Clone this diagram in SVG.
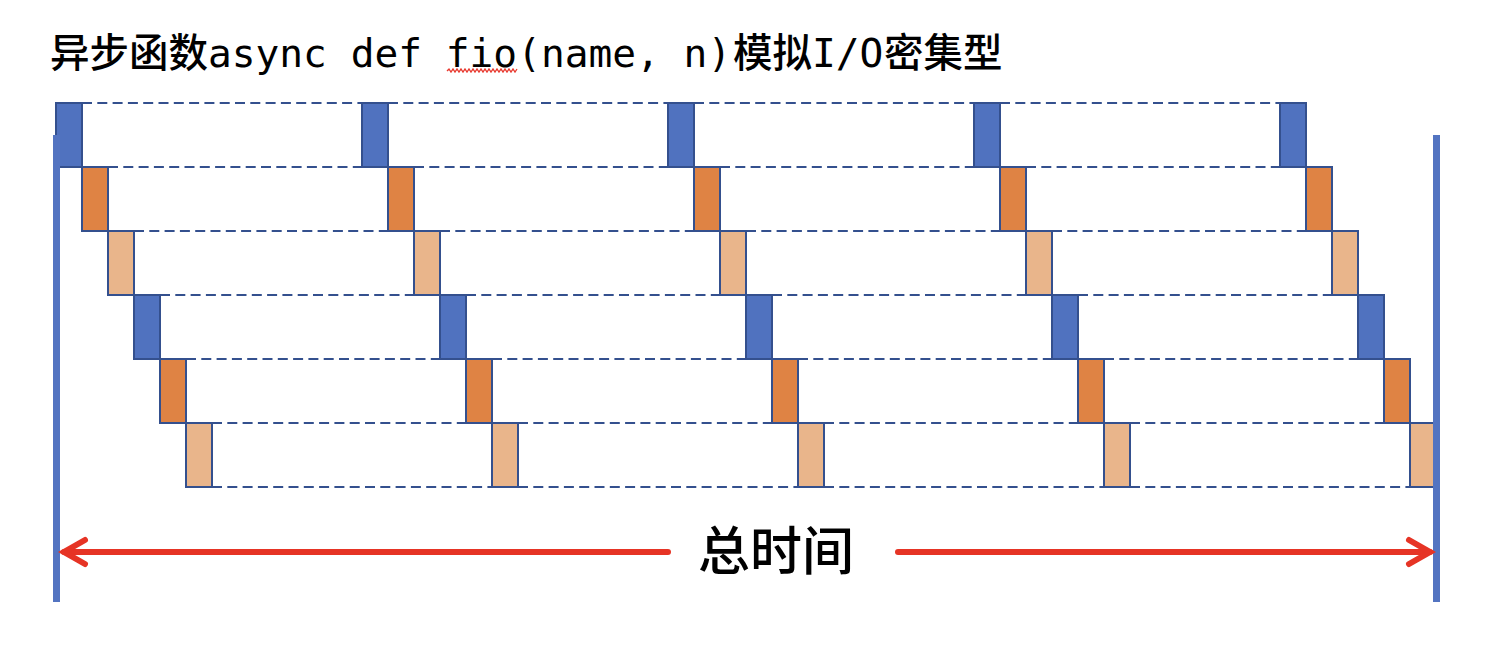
<svg xmlns="http://www.w3.org/2000/svg" width="1490" height="654" viewBox="0 0 1490 654">
<style>
.b{fill:#5072BF;stroke:#34508E;stroke-width:2}
.o{fill:#DF8344;stroke:#34508E;stroke-width:2}
.l{fill:#E9B58B;stroke:#34508E;stroke-width:2}
.d{stroke:#34508E;stroke-width:2;stroke-dasharray:10 5.3;fill:none}
.bar{fill:#5374C1}
.red{stroke:#E63425;stroke-width:6;fill:none;stroke-linecap:round;stroke-linejoin:miter}
.t{font-family:"DejaVu Sans Mono","Liberation Mono","Noto Sans CJK SC",monospace;font-size:39.5px;fill:#000}
.c{font-family:"Noto Sans CJK SC",sans-serif;font-weight:500}
</style>
<rect width="1490" height="654" fill="#fff"/>
<text class="t" y="66.5"><tspan class="c" x="50">异步函数</tspan><tspan x="208">async def fio(name, n)</tspan><tspan class="c" x="733">模拟</tspan><tspan x="812">I/O</tspan><tspan class="c" x="884">密集型</tspan></text>
<polyline points="447,71 449,69 451,72 453,69 455,72 457,69 459,72 461,69 463,72 465,69 467,72 469,69 471,72 473,69 475,72 477,69 479,72 481,69 483,72 485,69 487,72 489,69 491,72 493,69 495,72 497,69 499,72 501,69 503,72 505,69 507,72 509,69 511,72 513,69 515,72 517,69" fill="none" stroke="#E8392F" stroke-width="1.3"/>
<g id="connectors">
<line class="d" x1="82" y1="103" x2="1280" y2="103"/>
<line class="d" x1="108" y1="167" x2="1280" y2="167"/>
<line class="d" x1="134" y1="231" x2="1306" y2="231"/>
<line class="d" x1="160" y1="295" x2="1332" y2="295"/>
<line class="d" x1="186" y1="359" x2="1358" y2="359"/>
<line class="d" x1="212" y1="423" x2="1384" y2="423"/>
<line class="d" x1="212" y1="487" x2="1410" y2="487"/>
</g>
<g id="row0">
<rect id="r0b0" class="b" x="56" y="103" width="26" height="64"/>
<rect id="r0b1" class="b" x="362" y="103" width="26" height="64"/>
<rect id="r0b2" class="b" x="668" y="103" width="26" height="64"/>
<rect id="r0b3" class="b" x="974" y="103" width="26" height="64"/>
<rect id="r0b4" class="b" x="1280" y="103" width="26" height="64"/>
</g>
<g id="row1">
<rect id="r1b0" class="o" x="82" y="167" width="26" height="64"/>
<rect id="r1b1" class="o" x="388" y="167" width="26" height="64"/>
<rect id="r1b2" class="o" x="694" y="167" width="26" height="64"/>
<rect id="r1b3" class="o" x="1000" y="167" width="26" height="64"/>
<rect id="r1b4" class="o" x="1306" y="167" width="26" height="64"/>
</g>
<g id="row2">
<rect id="r2b0" class="l" x="108" y="231" width="26" height="64"/>
<rect id="r2b1" class="l" x="414" y="231" width="26" height="64"/>
<rect id="r2b2" class="l" x="720" y="231" width="26" height="64"/>
<rect id="r2b3" class="l" x="1026" y="231" width="26" height="64"/>
<rect id="r2b4" class="l" x="1332" y="231" width="26" height="64"/>
</g>
<g id="row3">
<rect id="r3b0" class="b" x="134" y="295" width="26" height="64"/>
<rect id="r3b1" class="b" x="440" y="295" width="26" height="64"/>
<rect id="r3b2" class="b" x="746" y="295" width="26" height="64"/>
<rect id="r3b3" class="b" x="1052" y="295" width="26" height="64"/>
<rect id="r3b4" class="b" x="1358" y="295" width="26" height="64"/>
</g>
<g id="row4">
<rect id="r4b0" class="o" x="160" y="359" width="26" height="64"/>
<rect id="r4b1" class="o" x="466" y="359" width="26" height="64"/>
<rect id="r4b2" class="o" x="772" y="359" width="26" height="64"/>
<rect id="r4b3" class="o" x="1078" y="359" width="26" height="64"/>
<rect id="r4b4" class="o" x="1384" y="359" width="26" height="64"/>
</g>
<g id="row5">
<rect id="r5b0" class="l" x="186" y="423" width="26" height="64"/>
<rect id="r5b1" class="l" x="492" y="423" width="26" height="64"/>
<rect id="r5b2" class="l" x="798" y="423" width="26" height="64"/>
<rect id="r5b3" class="l" x="1104" y="423" width="26" height="64"/>
<rect id="r5b4" class="l" x="1410" y="423" width="26" height="64"/>
</g>
<g id="bars">
<rect class="bar" x="53" y="135" width="7" height="467"/>
<rect class="bar" x="1433" y="135" width="7" height="467"/>
</g>
<g id="total-time">
<line class="red" x1="64" y1="552" x2="668" y2="552" stroke-linecap="butt"/>
<line class="red" x1="898" y1="552" x2="1430" y2="552" stroke-linecap="butt"/>
<polyline class="red" points="85,540 64,552 85,564"/>
<polyline class="red" points="1409,540 1430,552 1409,564"/>
<text x="776" y="570" text-anchor="middle" font-family="Noto Sans CJK SC, sans-serif" font-weight="500" font-size="52" fill="#000">总时间</text>
</g>
</svg>
